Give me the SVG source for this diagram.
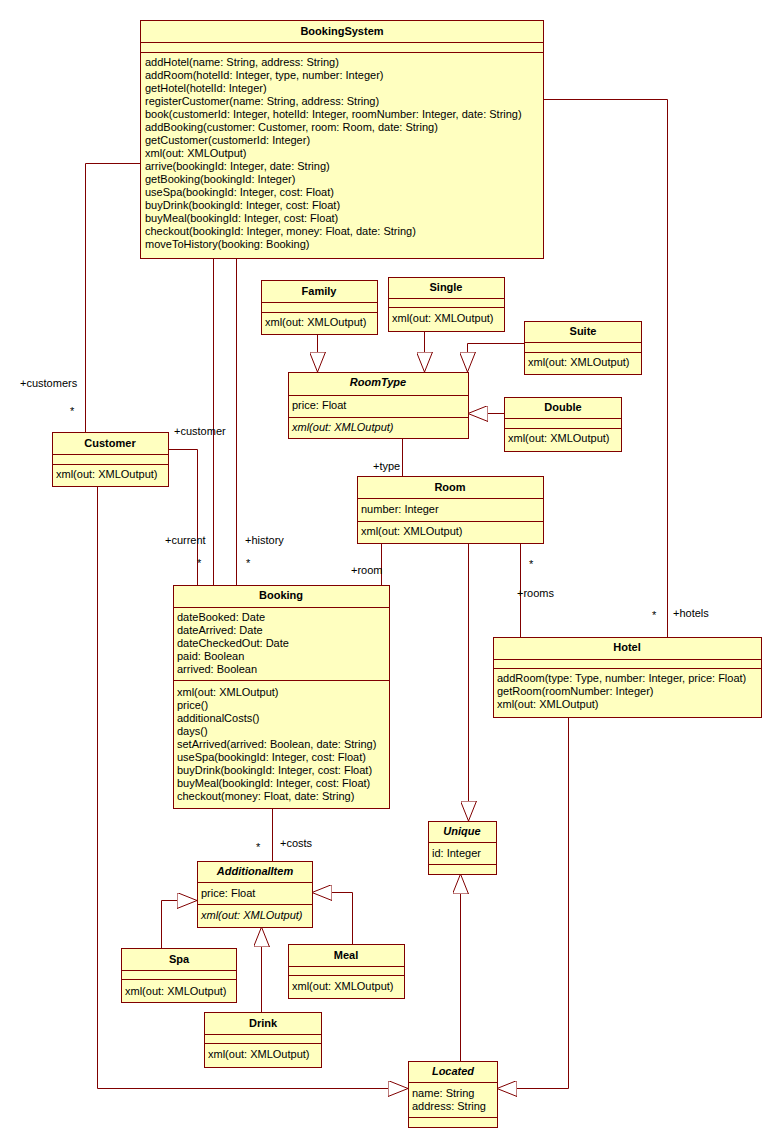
<svg xmlns="http://www.w3.org/2000/svg" width="782" height="1148" viewBox="0 0 782 1148">
<style>
.box{fill:#FFFFC0;stroke:#800000;stroke-width:1}
.sep{stroke:#800000;stroke-width:1;fill:none}
.ln{stroke:#800000;stroke-width:1;fill:none}
.gen{stroke:#800000;stroke-width:1;fill:none;marker-end:url(#tri)}
text{font-family:"Liberation Sans",Arial,sans-serif;font-size:11px;fill:#000}
.t{font-weight:bold;text-anchor:middle}
.ti{font-weight:bold;font-style:italic;text-anchor:middle}
.i{font-style:italic}
</style>
<defs>
<marker id="tri" viewBox="0 0 20 16" refX="20" refY="8" markerWidth="20" markerHeight="16" markerUnits="userSpaceOnUse" orient="auto">
<path d="M0,0 L20,8 L0,16 Z" fill="#fff" stroke="#800000" stroke-width="1"/>
</marker>
</defs>
<rect width="782" height="1148" fill="#fff"/>
<g id="connectors">
<path class="ln" d="M140.5,163.5 H85.5 V432"/>
<path class="ln" d="M543,99.5 H667.5 V637"/>
<path class="ln" d="M213.5,258 V585"/>
<path class="ln" d="M236.5,258 V585"/>
<path class="ln" d="M169,449.5 H197.5 V585"/>
<path class="ln" d="M381.5,543 V585"/>
<path class="ln" d="M402.5,439 V476"/>
<path class="gen" d="M468.5,543 V821"/>
<path class="ln" d="M520.5,543 V637"/>
<path class="gen" d="M568.5,717 V1088.5 H497"/>
<path class="gen" d="M97.5,486 V1088.5 H408"/>
<path class="gen" d="M460.5,1061 V874"/>
<path class="gen" d="M317.5,334 V372"/>
<path class="gen" d="M424.5,331 V372"/>
<path class="gen" d="M524,343.5 H467.5 V372"/>
<path class="gen" d="M504,413.5 H468"/>
<path class="ln" d="M272.5,808 V861"/>
<path class="gen" d="M161.5,948 V900.5 H197"/>
<path class="gen" d="M352.5,944 V892.5 H312"/>
<path class="gen" d="M261.5,1012 V927"/>
<text x="20" y="387">+customers</text>
<text x="70" y="415">*</text>
<text x="174" y="435">+customer</text>
<text x="165" y="544">+current</text>
<text x="197" y="567">*</text>
<text x="245" y="544">+history</text>
<text x="246" y="567">*</text>
<text x="373" y="470">+type</text>
<text x="351" y="574">+room</text>
<text x="529" y="568">*</text>
<text x="517" y="597">+rooms</text>
<text x="652" y="619">*</text>
<text x="673" y="617">+hotels</text>
<text x="256" y="851">*</text>
<text x="280" y="847">+costs</text>
</g>
<g id="BookingSystem">
<rect class="box" x="140.5" y="20.5" width="403" height="238"/>
<path class="sep" d="M140.5,42.5 H543.5 M140.5,52.5 H543.5"/>
<text class="t" x="342" y="35">BookingSystem</text>
<text x="145" y="66">addHotel(name: String, address: String)</text>
<text x="145" y="79">addRoom(hotelId: Integer, type, number: Integer)</text>
<text x="145" y="92">getHotel(hotelId: Integer)</text>
<text x="145" y="105">registerCustomer(name: String, address: String)</text>
<text x="145" y="118">book(customerId: Integer, hotelId: Integer, roomNumber: Integer, date: String)</text>
<text x="145" y="131">addBooking(customer: Customer, room: Room, date: String)</text>
<text x="145" y="144">getCustomer(customerId: Integer)</text>
<text x="145" y="157">xml(out: XMLOutput)</text>
<text x="145" y="170">arrive(bookingId: Integer, date: String)</text>
<text x="145" y="183">getBooking(bookingId: Integer)</text>
<text x="145" y="196">useSpa(bookingId: Integer, cost: Float)</text>
<text x="145" y="209">buyDrink(bookingId: Integer, cost: Float)</text>
<text x="145" y="222">buyMeal(bookingId: Integer, cost: Float)</text>
<text x="145" y="235">checkout(bookingId: Integer, money: Float, date: String)</text>
<text x="145" y="248">moveToHistory(booking: Booking)</text>
</g>
<g id="Family">
<rect class="box" x="261.5" y="280.5" width="116" height="54"/>
<path class="sep" d="M261.5,302.5 H377.5 M261.5,312.5 H377.5"/>
<text class="t" x="319" y="295">Family</text>
<text x="265" y="326">xml(out: XMLOutput)</text>
</g>
<g id="Single">
<rect class="box" x="388.5" y="277.5" width="116" height="54"/>
<path class="sep" d="M388.5,298.5 H504.5 M388.5,307.5 H504.5"/>
<text class="t" x="446" y="291">Single</text>
<text x="392" y="322">xml(out: XMLOutput)</text>
</g>
<g id="Suite">
<rect class="box" x="524.5" y="321.5" width="117" height="53"/>
<path class="sep" d="M524.5,342.5 H641.5 M524.5,352.5 H641.5"/>
<text class="t" x="583" y="335">Suite</text>
<text x="528" y="366">xml(out: XMLOutput)</text>
</g>
<g id="RoomType">
<rect class="box" x="288.5" y="372.5" width="180" height="66"/>
<path class="sep" d="M288.5,395.5 H468.5 M288.5,417.5 H468.5"/>
<text class="ti" x="378" y="386">RoomType</text>
<text x="292" y="409">price: Float</text>
<text class="i" x="292" y="431">xml(out: XMLOutput)</text>
</g>
<g id="Double">
<rect class="box" x="504.5" y="397.5" width="117" height="54"/>
<path class="sep" d="M504.5,418.5 H621.5 M504.5,428.5 H621.5"/>
<text class="t" x="563" y="411">Double</text>
<text x="508" y="442">xml(out: XMLOutput)</text>
</g>
<g id="Customer">
<rect class="box" x="52.5" y="432.5" width="116" height="54"/>
<path class="sep" d="M52.5,454.5 H168.5 M52.5,464.5 H168.5"/>
<text class="t" x="110" y="447">Customer</text>
<text x="56" y="478">xml(out: XMLOutput)</text>
</g>
<g id="Room">
<rect class="box" x="357.5" y="476.5" width="186" height="67"/>
<path class="sep" d="M357.5,498.5 H543.5 M357.5,521.5 H543.5"/>
<text class="t" x="450" y="491">Room</text>
<text x="361" y="513">number: Integer</text>
<text x="361" y="535">xml(out: XMLOutput)</text>
</g>
<g id="Booking">
<rect class="box" x="173.5" y="585.5" width="216" height="223"/>
<path class="sep" d="M173.5,607.5 H389.5 M173.5,680.5 H389.5"/>
<text class="t" x="281" y="599">Booking</text>
<text x="177" y="621">dateBooked: Date</text>
<text x="177" y="634">dateArrived: Date</text>
<text x="177" y="647">dateCheckedOut: Date</text>
<text x="177" y="660">paid: Boolean</text>
<text x="177" y="673">arrived: Boolean</text>
<text x="177" y="696">xml(out: XMLOutput)</text>
<text x="177" y="709">price()</text>
<text x="177" y="722">additionalCosts()</text>
<text x="177" y="735">days()</text>
<text x="177" y="748">setArrived(arrived: Boolean, date: String)</text>
<text x="177" y="761">useSpa(bookingId: Integer, cost: Float)</text>
<text x="177" y="774">buyDrink(bookingId: Integer, cost: Float)</text>
<text x="177" y="787">buyMeal(bookingId: Integer, cost: Float)</text>
<text x="177" y="800">checkout(money: Float, date: String)</text>
</g>
<g id="Hotel">
<rect class="box" x="493.5" y="637.5" width="268" height="80"/>
<path class="sep" d="M493.5,659.5 H761.5 M493.5,668.5 H761.5"/>
<text class="t" x="627" y="651">Hotel</text>
<text x="497" y="682">addRoom(type: Type, number: Integer, price: Float)</text>
<text x="497" y="695">getRoom(roomNumber: Integer)</text>
<text x="497" y="708">xml(out: XMLOutput)</text>
</g>
<g id="Unique">
<rect class="box" x="428.5" y="821.5" width="68" height="53"/>
<path class="sep" d="M428.5,842.5 H496.5 M428.5,864.5 H496.5"/>
<text class="ti" x="462" y="835">Unique</text>
<text x="432" y="857">id: Integer</text>
</g>
<g id="AdditionalItem">
<rect class="box" x="197.5" y="861.5" width="115" height="66"/>
<path class="sep" d="M197.5,882.5 H312.5 M197.5,904.5 H312.5"/>
<text class="ti" x="255" y="875">AdditionalItem</text>
<text x="201" y="897">price: Float</text>
<text class="i" x="201" y="919">xml(out: XMLOutput)</text>
</g>
<g id="Spa">
<rect class="box" x="121.5" y="948.5" width="115" height="54"/>
<path class="sep" d="M121.5,970.5 H236.5 M121.5,979.5 H236.5"/>
<text class="t" x="179" y="963">Spa</text>
<text x="125" y="995">xml(out: XMLOutput)</text>
</g>
<g id="Meal">
<rect class="box" x="288.5" y="944.5" width="116" height="54"/>
<path class="sep" d="M288.5,966.5 H404.5 M288.5,975.5 H404.5"/>
<text class="t" x="346" y="959">Meal</text>
<text x="292" y="990">xml(out: XMLOutput)</text>
</g>
<g id="Drink">
<rect class="box" x="204.5" y="1012.5" width="117" height="55"/>
<path class="sep" d="M204.5,1034.5 H321.5 M204.5,1043.5 H321.5"/>
<text class="t" x="263" y="1027">Drink</text>
<text x="208" y="1058">xml(out: XMLOutput)</text>
</g>
<g id="Located">
<rect class="box" x="408.5" y="1061.5" width="89" height="66"/>
<path class="sep" d="M408.5,1082.5 H497.5 M408.5,1117.5 H497.5"/>
<text class="ti" x="453" y="1075">Located</text>
<text x="412" y="1097">name: String</text>
<text x="412" y="1110">address: String</text>
</g>
</svg>
